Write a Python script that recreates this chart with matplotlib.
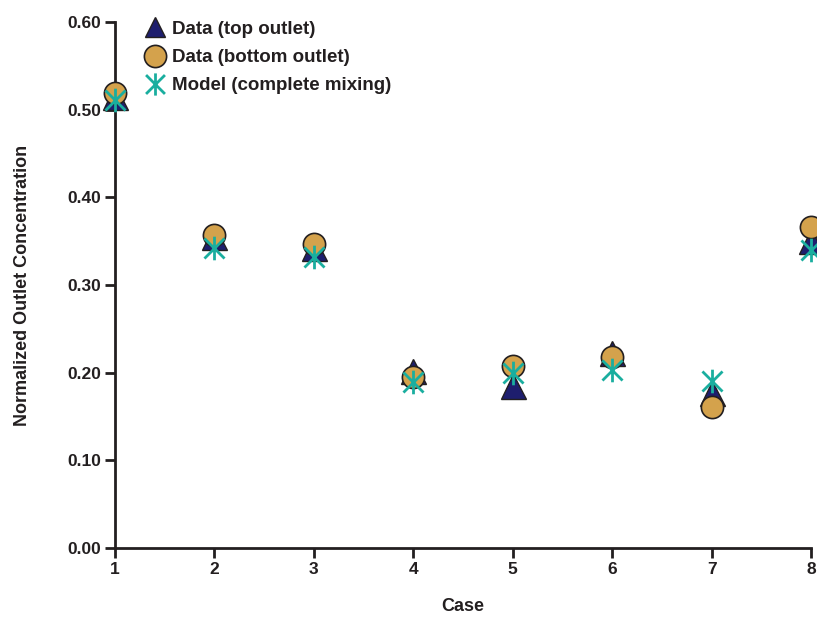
import matplotlib
matplotlib.use("Agg")
import matplotlib.pyplot as plt
from matplotlib.lines import Line2D
from matplotlib.path import Path

plt.rcParams['font.family'] = ['Liberation Sans', 'DejaVu Sans']

cases = [1, 2, 3, 4, 5, 6, 7, 8]
top_outlet = [0.515, 0.355, 0.342, 0.202, 0.185, 0.223, 0.177, 0.350]
bottom_outlet = [0.519, 0.357, 0.347, 0.195, 0.208, 0.218, 0.161, 0.366]
model = [0.511, 0.342, 0.332, 0.189, 0.200, 0.203, 0.190, 0.340]
yticks = [0.0, 0.1, 0.2, 0.3, 0.4, 0.5, 0.6]
ytick_labels = ['0.00', '0.10', '0.20', '0.30', '0.40', '0.50', '0.60']

navy = '#1e1e6e'
gold = '#d4a24c'
teal = '#1aae9f'
spine = '#231f20'

# asterisk: vertical bar + X
star = Path([(0, -1), (0, 1), (-0.85, -0.85), (0.85, 0.85), (-0.85, 0.85), (0.85, -0.85)],
            [Path.MOVETO, Path.LINETO, Path.MOVETO, Path.LINETO, Path.MOVETO, Path.LINETO])

fig = plt.figure(figsize=(8.17, 6.17), dpi=100)
ax = fig.add_axes([0.1408, 0.1118, 0.8519, 0.8525])

ax.plot(cases, top_outlet, linestyle='none', marker='^', markersize=18,
        markerfacecolor=navy, markeredgecolor=spine, markeredgewidth=1.0,
        clip_on=False, zorder=3)
ax.plot(cases, bottom_outlet, linestyle='none', marker='o', markersize=16,
        markerfacecolor=gold, markeredgecolor=spine, markeredgewidth=1.2,
        clip_on=False, zorder=4)
ax.plot(cases, model, linestyle='none', marker=star, markersize=17,
        markeredgecolor=teal, markeredgewidth=2.0, color=teal,
        clip_on=False, zorder=5)

ax.set_xlim(1, 8)
ax.set_ylim(0, 0.6)
ax.set_xticks(cases)
ax.set_xticklabels([str(c) for c in cases])
ax.set_yticks(yticks)
ax.set_yticklabels(ytick_labels)

for s in ['top', 'right']:
    ax.spines[s].set_visible(False)
for s in ['left', 'bottom']:
    ax.spines[s].set_linewidth(2.0)
    ax.spines[s].set_color(spine)

ax.tick_params(axis='both', direction='out', length=7, width=2.0, color=spine,
               labelsize=12.5, labelcolor=spine, pad=3)
for lab in ax.get_xticklabels() + ax.get_yticklabels():
    lab.set_fontweight('bold')

ax.set_xlabel('Case', fontsize=13, fontweight='bold', color=spine, labelpad=15)
ax.set_ylabel('Normalized Outlet Concentration', fontsize=13, fontweight='bold',
              color=spine, labelpad=26)

handles = [
    Line2D([], [], linestyle='none', marker='^', markersize=15,
           markerfacecolor=navy, markeredgecolor=spine, markeredgewidth=1.0),
    Line2D([], [], linestyle='none', marker='o', markersize=16,
           markerfacecolor=gold, markeredgecolor=spine, markeredgewidth=1.2),
    Line2D([], [], linestyle='none', marker=star, markersize=16,
           markeredgecolor=teal, markeredgewidth=2.0, color=teal),
]
labels = ['Data (top outlet)', 'Data (bottom outlet)', 'Model (complete mixing)']
leg = ax.legend(handles, labels, loc='upper left', bbox_to_anchor=(0.033, 1.017),
                frameon=False, handlelength=1.0, handletextpad=0.4,
                labelspacing=0.6, borderaxespad=0.0,
                prop={'weight': 'bold', 'size': 13.5})
for t in leg.get_texts():
    t.set_color(spine)

fig.savefig('out.png', dpi=100)
